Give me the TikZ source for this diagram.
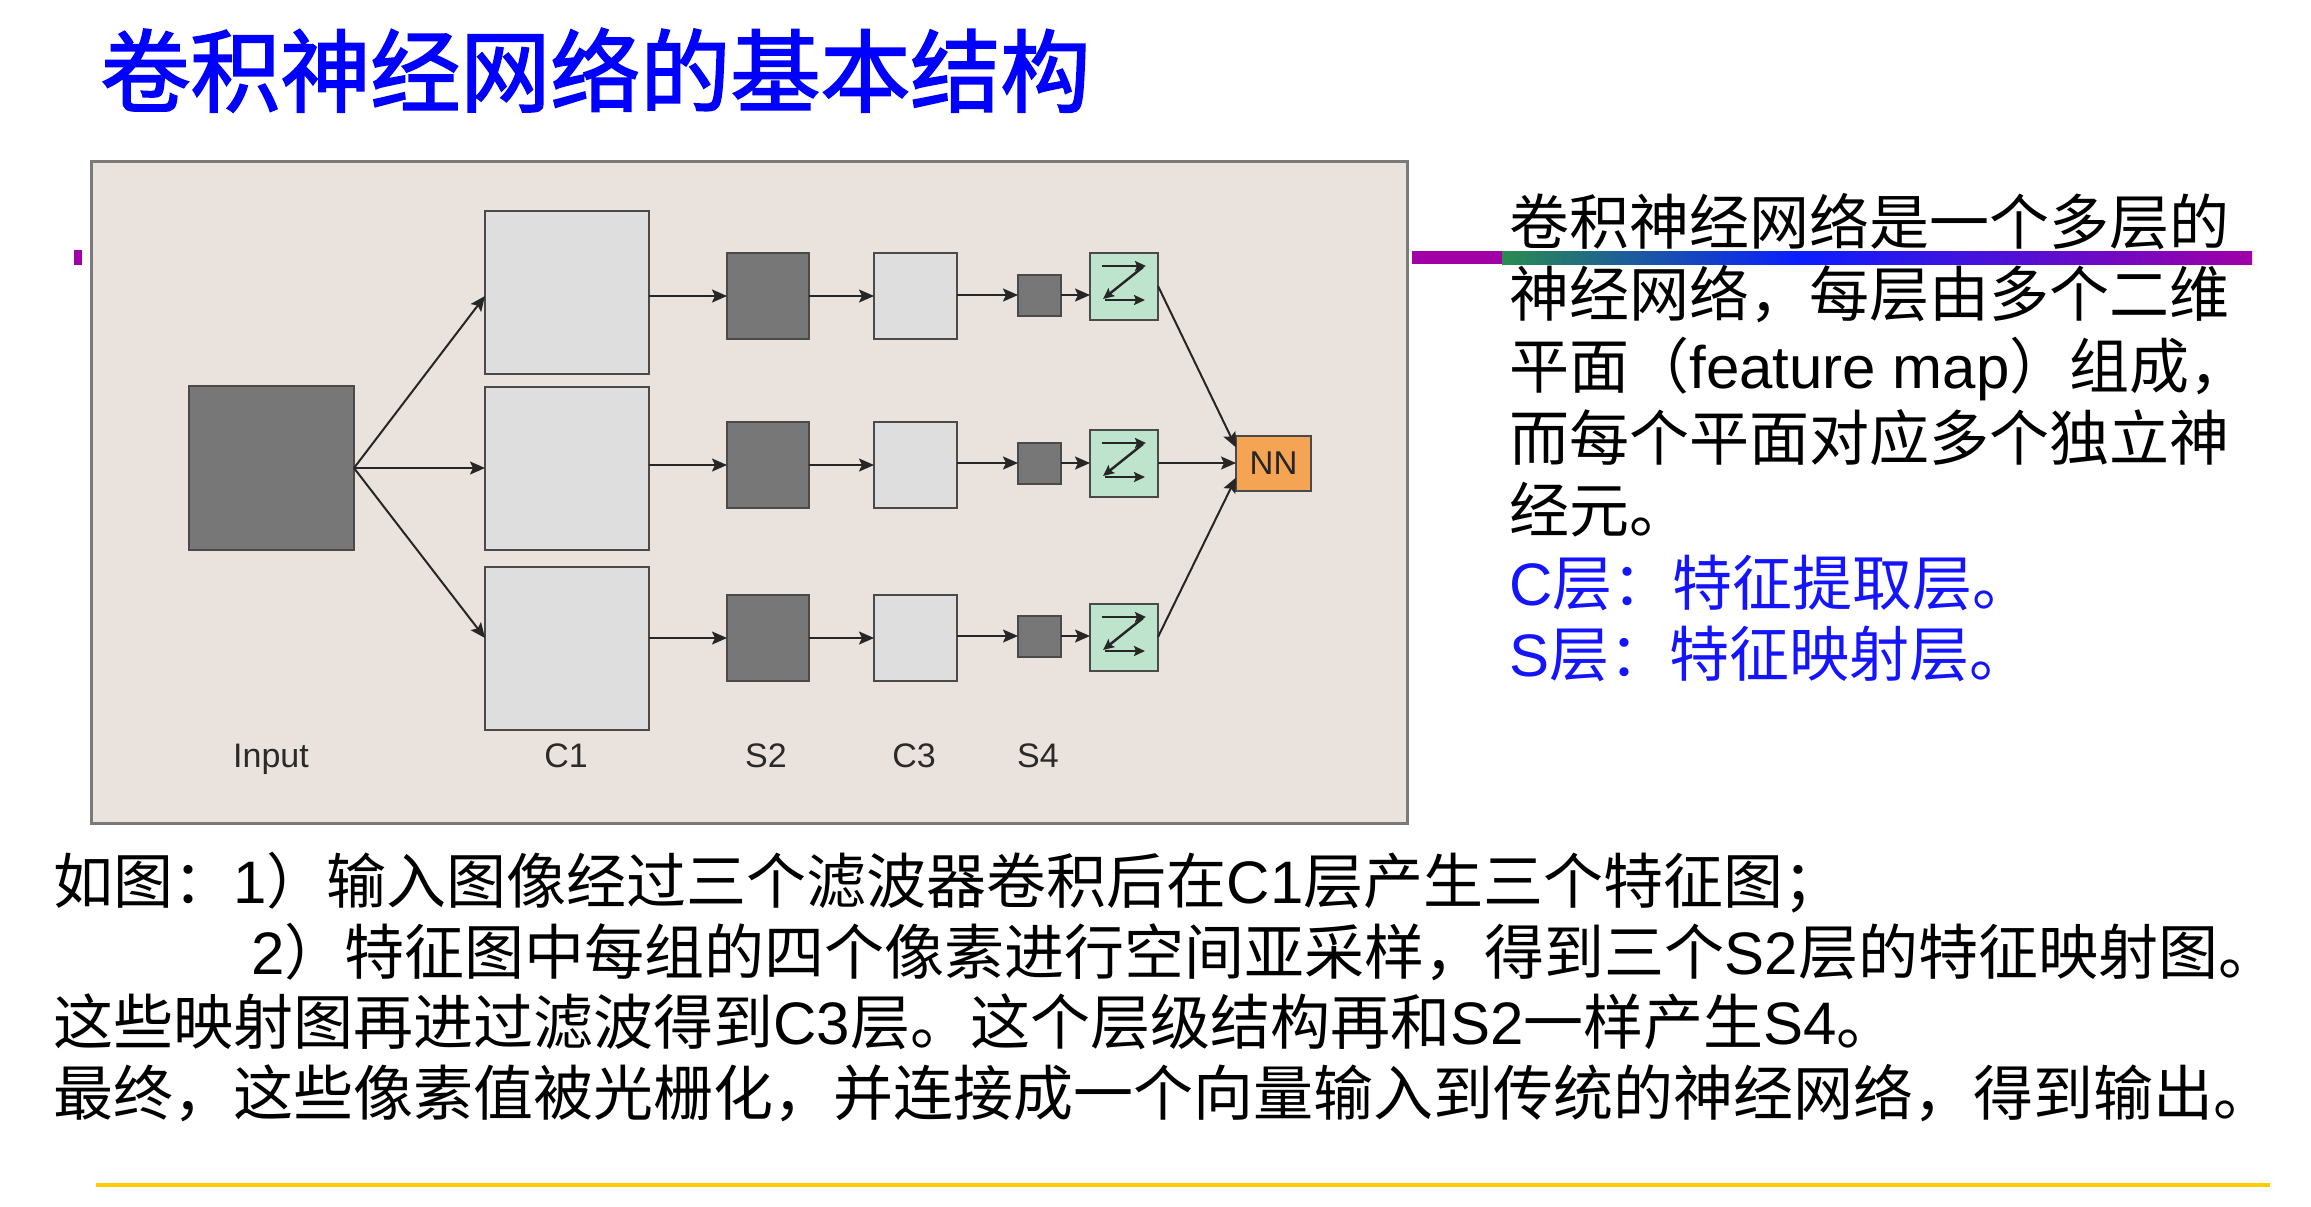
\documentclass[tikz,border=0pt]{standalone}
\usepackage{fontspec}
\setmainfont{Liberation Sans}
\newfontfamily\cjk{Noto Sans CJK SC}
\newfontfamily\cjktitle{Noto Sans CJK SC}[FakeBold=2]
\newfontfamily\lat{Liberation Sans}
\usetikzlibrary{arrows.meta}
\definecolor{framefill}{HTML}{EAE2DC}
\definecolor{framedraw}{HTML}{7A7A7A}
\definecolor{darkbox}{HTML}{777777}
\definecolor{lightbox}{HTML}{DEDEDE}
\definecolor{greenbox}{HTML}{BFE4CD}
\definecolor{nnbox}{HTML}{F4A453}
\definecolor{edgec}{HTML}{4A4A4A}
\definecolor{arrowc}{HTML}{262626}
\definecolor{labelc}{HTML}{2A2A2A}
\definecolor{titleblue}{HTML}{0000FF}
\definecolor{noteblue}{HTML}{1414FF}
\definecolor{magline}{HTML}{A000A6}
\definecolor{gradgreen}{HTML}{2A8C50}
\definecolor{gradblue}{HTML}{0A1EFF}
\definecolor{goldline}{HTML}{FFCC00}
\begin{document}
\begin{tikzpicture}[x=0.5pt,y=-0.5pt,
  box/.style={draw=edgec, line width=1pt, inner sep=0pt, outer sep=0pt},
  darkb/.style={box, fill=darkbox},
  lightb/.style={box, fill=lightbox},
  greenb/.style={box, fill=greenbox, minimum width=34pt, minimum height=33.5pt},
  arr/.style={draw=arrowc, line width=1pt, -{Stealth[length=7.5pt,width=6.5pt,inset=1.5pt]}},
  zarr/.style={draw=black!85, line width=1.2pt, -{Stealth[length=5.5pt,width=5pt,inset=1pt]}},
  lbl/.style={anchor=base, inner sep=0pt, text=labelc, font=\lat\fontsize{17pt}{20pt}\selectfont},
  txt/.style={anchor=base west, inner sep=0pt, font=\cjk\fontsize{30pt}{36pt}\selectfont},
  bluetxt/.style={txt, text=noteblue}
]
\useasboundingbox (0,0) rectangle (2311,1206);
\fill[white] (0,0) rectangle (2311,1206);

% title
\node[anchor=base west, inner sep=0pt, text=titleblue, font=\cjktitle\fontsize{45pt}{50pt}\selectfont] (title) at (100,105) {卷积神经网络的基本结构};

% decorative lines
\fill[magline] (74,250) rectangle (82,265);
\fill[magline] (1412,251) rectangle (1503,264);
\shade[left color=gradgreen, right color=gradblue] (1502,251) rectangle (1800,264);
\shade[left color=gradblue, right color=magline] (1799,251) rectangle (2252,264);
\fill[goldline] (96,1183) rectangle (2270,1187);

% frame
\draw[framedraw, line width=1.5pt, fill=framefill] (91,161) rectangle (1407,823);

% nodes
\node[darkb, minimum width=82.5pt, minimum height=82pt] (inp) at (271.5,468) {};
\node[lightb, minimum width=82pt, minimum height=81.5pt] (c1a) at (567,292.5) {};
\node[lightb, minimum width=82pt, minimum height=81.5pt] (c1b) at (567,468) {};
\node[lightb, minimum width=82pt, minimum height=81.5pt] (c1c) at (567,648.5) {};
\node[darkb, minimum width=41pt, minimum height=43pt] (s2a) at (768,296) {};
\node[darkb, minimum width=41pt, minimum height=43pt] (s2b) at (768,465) {};
\node[darkb, minimum width=41pt, minimum height=43pt] (s2c) at (768,638) {};
\node[lightb, minimum width=41.5pt, minimum height=43pt] (c3a) at (915.5,296) {};
\node[lightb, minimum width=41.5pt, minimum height=43pt] (c3b) at (915.5,465) {};
\node[lightb, minimum width=41.5pt, minimum height=43pt] (c3c) at (915.5,638) {};
\node[darkb, minimum width=21.5pt, minimum height=20.5pt] (s4a) at (1039.5,295) {};
\node[darkb, minimum width=21.5pt, minimum height=20.5pt] (s4b) at (1039.5,463) {};
\node[darkb, minimum width=21.5pt, minimum height=20.5pt] (s4c) at (1039.5,636) {};
\node[greenb] (ga) at (1124,286) {};
\node[greenb] (gb) at (1124,463) {};
\node[greenb] (gc) at (1124,637) {};
\node[box, fill=nnbox, minimum width=37.5pt, minimum height=27.5pt, text=black!85, font=\lat\fontsize{16.5pt}{19pt}\selectfont] (nn) at (1273.5,463.5) {NN};

% labels
\node[lbl] (linp) at (271,767) {Input};
\node[lbl] (lc1) at (566,767) {C1};
\node[lbl] (ls2) at (766,767) {S2};
\node[lbl] (lc3) at (914,767) {C3};
\node[lbl] (ls4) at (1038,767) {S4};

% connectors
\draw[arr] (inp.east) -- (c1a.west |- s2a);
\draw[arr] (inp.east) -- (c1b.west);
\draw[arr] (inp.east) -- (c1c.west |- s2c);
\foreach \r in {a,b,c} {
  \draw[arr] (c1\r.east |- s2\r) -- (s2\r);
  \draw[arr] (s2\r) -- (c3\r);
  \draw[arr] (c3\r.east |- s4\r) -- (s4\r);
  \draw[arr] (s4\r) -- (g\r.west |- s4\r);
}
\draw[arr] (ga.east) -- ([yshift=8pt]nn.west);
\draw[arr] (gb.east) -- (nn.west |- gb.east);
\draw[arr] (gc.east) -- ([yshift=-7pt]nn.west);

% zig-zag symbols in green boxes
\foreach \g in {ga,gb,gc} {
  \begin{scope}[shift={(\g.center)}]
    \draw[zarr] (-22,-20) -- (22,-20);
    \draw[zarr] (19,-19) -- (-21,13);
    \draw[zarr] (-19,14) -- (21,14);
  \end{scope}
}

% right text block
\node[txt] (t1) at (1509,244) {卷积神经网络是一个多层的};
\node[txt] (t2) at (1509,316) {神经网络，每层由多个二维};
\node[txt] (t3) at (1509,388) {平面（{\lat feature map}）组成，};
\node[txt] (t4) at (1509,460) {而每个平面对应多个独立神};
\node[txt] (t5) at (1509,532) {经元。};
\node[bluetxt] (t6) at (1509,605) {{\lat C}层：特征提取层。};
\node[bluetxt] (t7) at (1509,676) {{\lat S}层：特征映射层。};

% bottom text
\node[txt] (b1) at (53,903) {如图：{\lat 1}）输入图像经过三个滤波器卷积后在{\lat C1}层产生三个特征图；};
\node[txt] (b2) at (251,974) {{\lat 2}）特征图中每组的四个像素进行空间亚采样，得到三个{\lat S2}层的特征映射图。};
\node[txt] (b3) at (53,1044) {这些映射图再进过滤波得到{\lat C3}层。这个层级结构再和{\lat S2}一样产生{\lat S4}。};
\node[txt] (b4) at (53,1115) {最终，这些像素值被光栅化，并连接成一个向量输入到传统的神经网络，得到输出。};
\end{tikzpicture}
\end{document}
